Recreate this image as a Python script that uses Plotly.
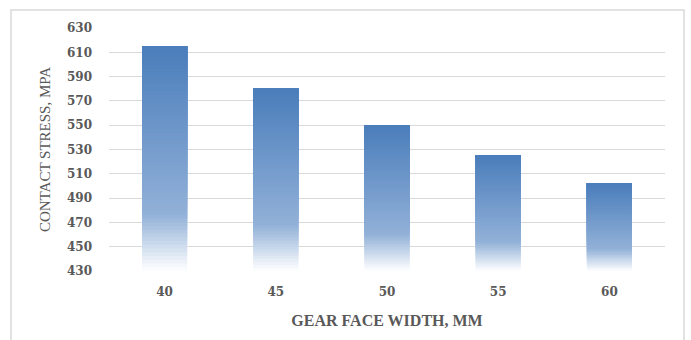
import plotly.graph_objects as go

# Gear face width (mm) and the resulting contact stress (MPa)
face_width = ["40", "45", "50", "55", "60"]
contact_stress = [615, 580, 550, 525, 502]
y_ticks = [430, 450, 470, 490, 510, 530, 550, 570, 590, 610, 630]

Y_MIN, Y_MAX = 430, 630

# Vertical gradient: dark blue at the top of each bar fading to white at its base.
# Stops are (position from base 0..1, rgb)
stops = [(0.0, (255, 255, 255)), (0.25, (146, 177, 216)), (1.0, (74, 125, 187))]


def grad_color(t):
    for (p0, c0), (p1, c1) in zip(stops[:-1], stops[1:]):
        if p0 <= t <= p1:
            f = (t - p0) / (p1 - p0) if p1 > p0 else 0
            return "rgb({},{},{})".format(*[round(a + (b - a) * f) for a, b in zip(c0, c1)])
    return "rgb({},{},{})".format(*stops[-1][1])


fig = go.Figure()
N = 60
for i in range(N):
    t = i / N
    bases = [Y_MIN + t * (v - Y_MIN) for v in contact_stress]
    heights = [v - b for v, b in zip(contact_stress, bases)]
    fig.add_trace(go.Bar(
        x=face_width, y=heights, base=bases,
        marker=dict(color=grad_color(t + 0.5 / N), line=dict(width=0)),
        width=0.405, showlegend=False, hoverinfo="skip",
    ))

serif = "Liberation Serif, Times New Roman, serif"
tick_font = dict(family="DejaVu Serif", size=12, color="#595959", weight="bold")

fig.update_layout(
    width=691, height=340,
    margin=dict(l=109, r=26, t=28, b=69),
    barmode="overlay",
    plot_bgcolor="white", paper_bgcolor="white",
    font=dict(family=serif, color="#595959"),
    xaxis=dict(
        type="category",
        showgrid=False, showline=False, zeroline=False,
        tickfont=tick_font,
        ticklabelstandoff=12,
        title=dict(text="GEAR FACE WIDTH, MM", standoff=16,
                   font=dict(family=serif, size=16, color="#595959", weight="bold")),
    ),
    yaxis=dict(
        range=[Y_MIN, Y_MAX], tickvals=y_ticks,
        showgrid=True, gridcolor="#D9D9D9", gridwidth=1,
        showline=False, zeroline=False,
        tickfont=tick_font,
        ticklabelstandoff=16,
        title=dict(text="CONTACT STRESS, MPA", standoff=12,
                   font=dict(family=serif, size=15, color="#595959")),
    ),
    shapes=[dict(
        type="rect", xref="paper", yref="paper",
        x0=-98 / 556, x1=(684 - 109) / 556,
        y0=-80 / 243, y1=(271 - 10) / 243,
        line=dict(color="#D9D9D9", width=1.5), layer="below",
    )],
)

fig.write_html("out.html")
